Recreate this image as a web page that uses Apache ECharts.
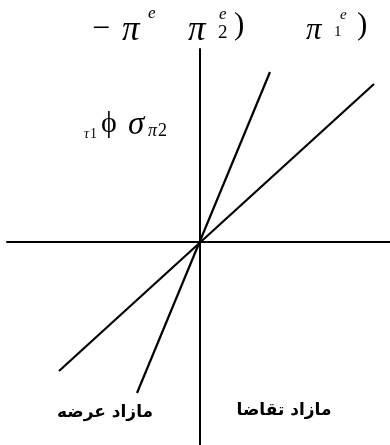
<!DOCTYPE html>
<html>
<head>
<meta charset="utf-8">
<script src="https://cdn.jsdelivr.net/npm/echarts@6/dist/echarts.min.js"></script>
<style>
  html, body { margin: 0; padding: 0; background: #fff; }
  #main { width: 390px; height: 445px; }
</style>
</head>
<body>
<div id="main"></div>
<script>
// line end points, in axis units (origin = crossing of the two axes)
const steepX = [-0.63, 0.70];
const steepY = [-1.51, 1.70];
const flatX = [-1.41, 1.74];
const flatY = [-1.29, 1.58];

const xRange = [-1.93, 1.90];
const yRange = [-2.03, 1.93];

const bottomLabels = ['مازاد عرضه', 'مازاد تقاضا'];

var myChart = echarts.init(document.getElementById('main'));

function pairs(xs, ys) {
  let out = [];
  for (let i = 0; i < xs.length; i++) {
    out.push([xs[i], ys[i]]);
  }
  return out;
}

const serif = '"Liberation Serif", "DejaVu Serif", serif';

function txt(x, y, s, size, italic, align) {
  return {
    type: 'text',
    x: x,
    y: y,
    style: {
      text: s,
      font: (italic ? 'italic ' : '') + size + 'px ' + serif,
      fill: '#000',
      align: align || 'left',
      verticalAlign: 'middle'
    }
  };
}

var option = {
  animation: false,
  backgroundColor: '#fff',
  grid: { left: 7, right: 0, top: 49, bottom: 0 },
  xAxis: {
    type: 'value',
    min: xRange[0],
    max: xRange[1],
    axisLine: { onZero: true, lineStyle: { color: '#000', width: 2 } },
    axisTick: { show: false },
    axisLabel: { show: false },
    splitLine: { show: false }
  },
  yAxis: {
    type: 'value',
    min: yRange[0],
    max: yRange[1],
    axisLine: { show: true, onZero: true, lineStyle: { color: '#000', width: 2 } },
    axisTick: { show: false },
    axisLabel: { show: false },
    splitLine: { show: false }
  },
  series: [
    {
      type: 'line',
      data: pairs(steepX, steepY),
      symbol: 'none',
      lineStyle: { color: '#000', width: 2.2 }
    },
    {
      type: 'line',
      data: pairs(flatX, flatY),
      symbol: 'none',
      lineStyle: { color: '#000', width: 2.2 }
    }
  ],
  graphic: [
    // top formula
    txt(92, 30, '\u2212', 32, false),
    txt(122, 31, '\u03c0', 35, true),
    txt(148, 14, 'e', 17, true),
    txt(188, 31, '\u03c0', 35, true),
    txt(219, 15, 'e', 17, true),
    txt(218, 33, '2', 19, false),
    txt(234, 26, ')', 31, false),
    txt(306, 31, '\u03c0', 31, true),
    txt(334, 32, '1', 15, false),
    txt(340, 15, 'e', 15, true),
    txt(357, 26, ')', 31, false),
    // middle formula
    txt(84, 134, '\u03c4', 14, true),
    txt(90, 134, '1', 14, false),
    txt(101, 124, '\u03d5', 30, false),
    txt(128, 125, '\u03c3', 33, true),
    txt(148, 131, '\u03c0', 18, true),
    txt(158, 131, '2', 18, false),
    // bottom labels
    {
      type: 'text',
      x: 105,
      y: 413,
      style: {
        text: bottomLabels[0],
        font: 'bold 17px "DejaVu Sans", sans-serif',
        fill: '#000',
        align: 'center',
        verticalAlign: 'middle'
      }
    },
    {
      type: 'text',
      x: 284,
      y: 411,
      style: {
        text: bottomLabels[1],
        font: 'bold 17px "DejaVu Sans", sans-serif',
        fill: '#000',
        align: 'center',
        verticalAlign: 'middle'
      }
    }
  ]
};

myChart.setOption(option);
</script>
</body>
</html>
